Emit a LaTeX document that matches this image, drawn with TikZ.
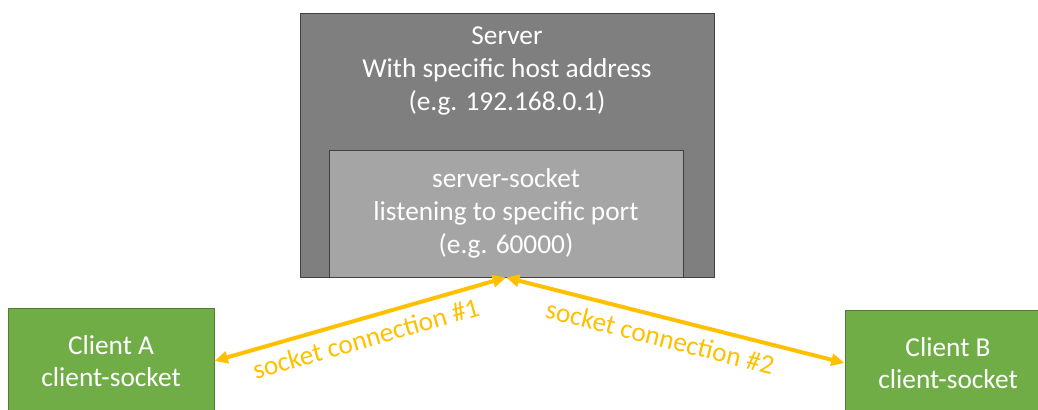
\documentclass[tikz,border=0pt]{standalone}
\usepackage{fontspec}
\setmainfont{Carlito}
\usepackage{xcolor}
\usetikzlibrary{arrows.meta, positioning}
\definecolor{boxgray}{HTML}{7F7F7F}
\definecolor{socketgray}{HTML}{A5A5A5}
\definecolor{edgegray}{HTML}{404040}
\definecolor{clientgreen}{HTML}{70AD47}
\definecolor{clientedge}{HTML}{507E32}
\definecolor{linkorange}{HTML}{FFC000}

\begin{document}
\begin{tikzpicture}[x=0.75pt, y=-0.75pt,
    every node/.style={font=\fontsize{20.5}{24.5}\selectfont},
    graybox/.style={draw=edgegray, line width=0.75pt, rectangle, inner sep=0pt},
    clientbox/.style={draw=clientedge, fill=clientgreen, line width=0.75pt, rectangle, minimum width=154.5pt, minimum height=79.5pt, text=white, align=center},
    link/.style={<->, >={Triangle[length=10pt, width=9pt]}, draw=linkorange, line width=3pt},
    linklabel/.style={sloped, below=3pt, text=linkorange}]
    \useasboundingbox (0,0) rectangle (1038,410);
    \node (server) [graybox, fill=boxgray, minimum width=310.5pt, minimum height=197.25pt] at (507,145.5) {};
    \node (host) [below=10pt of server.north, text=white, align=center, inner sep=0pt] {Server\\With specific host address\\(e.g. 192.168.0.1)};
    \node (socket) [graybox, fill=socketgray, minimum width=265.5pt, minimum height=95.25pt, text=white, align=center] at (506,213.5) {server-socket\\listening to specific port\\(e.g. 60000)};
    \node (clientA) [clientbox] at (111,361) {Client A\\client-socket};
    \node (clientB) [clientbox] at (948,363) {Client B\\client-socket};

    \draw [link] (clientA.east) -- node[pos=0.5, linklabel] {socket connection \#1} (socket.south);
    \draw [link] (socket.south) -- node[pos=0.47, linklabel] {socket connection \#2} (clientB.west);
\end{tikzpicture}
\end{document}
